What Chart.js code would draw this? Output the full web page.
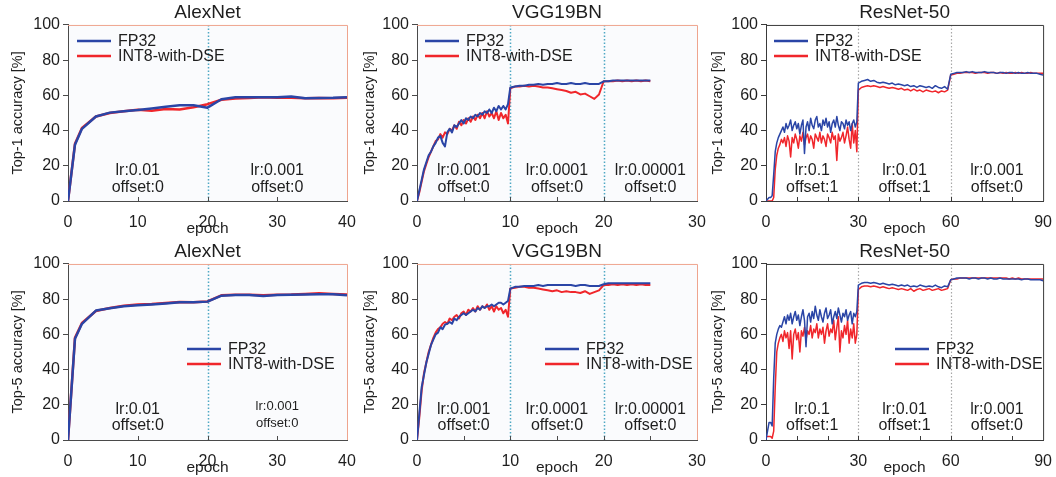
<!DOCTYPE html>
<html><head><meta charset="utf-8">
<script src="https://cdn.jsdelivr.net/npm/chart.js@4.4.1/dist/chart.umd.min.js"></script>
<style>
html,body{margin:0;padding:0;background:#fff;}
#wrap{position:relative;width:1056px;height:477px;overflow:hidden;background:#fff;}
canvas{position:absolute;}
</style></head><body><div id="wrap">
<canvas id="c0" width="362" height="238" style="left:0px;top:0px"></canvas>
<canvas id="c1" width="362" height="238" style="left:350px;top:0px"></canvas>
<canvas id="c2" width="356" height="238" style="left:700px;top:0px"></canvas>
<canvas id="c3" width="362" height="238" style="left:0px;top:239px"></canvas>
<canvas id="c4" width="362" height="238" style="left:350px;top:239px"></canvas>
<canvas id="c5" width="356" height="238" style="left:700px;top:239px"></canvas>
</div>
<script>
// ---------------- DATA ----------------
const seriesNames = ['FP32', 'INT8-with-DSE'];
const panelTitles = ['AlexNet', 'VGG19BN', 'ResNet-50'];
const yTitles = ['Top-1 accuracy [%]', 'Top-5 accuracy [%]'];
const yTicks = [0, 20, 40, 60, 80, 100];
const alexXTicks = [0, 10, 20, 30, 40];
const vggXTicks = [0, 10, 20, 30];
const resXTicks = [0, 30, 60, 90];

// AlexNet (epochs)
const alexEpochs = [0,1,2,4,6,8,10,12,14,16,18,20,22,24,26,28,30,32,34,36,38,40];
const alexTop1FP32 = [0,32,41,48,50.2,51,51.7,52.6,53.6,54.4,54.4,53,57.8,58.9,59,59,59,59.3,58.3,58.5,58.6,58.9];
const alexTop1INT8 = [0,32.5,41.5,48,50,51,51.8,51.3,52.3,52,53.2,55,57.5,58.2,58.5,58.9,58.6,58.6,58.4,58.5,58.4,58.6];
const alexTop5FP32 = [0,57.5,66,73.5,74.8,76,76.5,77,77.6,78.2,78.3,78.6,82,82.3,82.4,81.8,82.4,82.5,82.7,82.8,82.8,82.2];
const alexTop5INT8 = [0,58,66.5,73.3,75,76.3,77,77.2,77.8,78.4,78.3,78.7,82.2,82.5,82.5,82.2,82.5,82.6,82.9,83.3,83,82.6];

// VGG19BN: sampling segments [start, end, step] in epochs
const vggSegments = [[0, 9.75, 0.25], [10, 19.5, 0.5], [20, 25, 0.5]];
const vggTop1FP32 = [
  0,6,12,18,22,26,28,31,33,36, 37,33,31,39,41,39,43,42,44,46, 44,47,46,48,47,49,48,50,49,51, 50,52,50,53,51,54,52,54,52,55,
  64.5,65,65.5,65.5,66,66,66.5,66,66.5,66.5, 67,66.5,66.5,67,66.5,66.5,67,66.5,66.5,66.5,
  68,68,68.5,68.5,68.5,68.5,68.5,68.5,68.5,68.5,68.5];
const vggTop1INT8 = [
  0,5,11,17,21,25,28,31,34,35, 38,36,39,38,41,40,43,41,45,43, 46,44,47,45,48,46,49,47,50,47, 51,48,50,47,51,46,50,47,49,44,
  64,65,65,65.5,65,65.5,65,64.5,64.5,64, 63.5,63,62.5,61.5,62,60.5,61,59.5,58,60.5,
  68,68,68,68.5,68,68.5,68,68.5,68,68.5,68];
const vggTop5FP32 = [
  0,15,30,37,44,49,54,57,60,61, 64,63,65.5,66,67,66,69,68,70,71, 72,71,72,73,74,73,75,74,76,75, 76,76,77,76,77,78,78,77,78,79,
  86,87,87,87.5,87.5,87.5,88,87.5,88,88, 88,88,88,88,87.5,88,88,87.5,87.5,87.5,
  88.5,89,89,89,89,89,89,89,89,89,89];
const vggTop5INT8 = [
  0,13,28,38,44,50,54,58,61,63, 64,66,67,66,69,68,70,71,69,72, 73,71,74,73,75,73,76,74,76,75, 77,74,76,73,76,74,75,72,74,70,
  86,86.5,87,87,86.5,86.5,86,85.5,85,84.5, 85,84,84.5,84,84,83.5,84.5,83,84,85,
  88,88,88.5,88,88.5,88,88.5,88,88.5,88,88];

// ResNet-50: sampling segments [start, end, step] in epochs
const resSegments = [[0, 29.5, 0.5], [30, 59, 1], [60, 90, 1]];
const resTop1FP32 = [
  0,1,2,2,3,15,28,33,36,38, 40,42,39,44,41,43,46,40,43,45, 41,44,38,43,46,27,42,45,40,47,
  43,41,46,48,42,44,40,46,43,47, 42,45,39,44,46,42,48,43,40,45, 44,41,46,43,45,40,44,46,42,45,
  67,68,68.5,69,68,68.5,67.5,67,67.5,67, 66.5,67,66,66.5,66,65.5,66,65,65.5,64.5, 65.5,65,64.5,65,64,65.5,64.5,64,65,63.5,
  72,72.5,73,73,73,73.5,73,73.5,73,73, 73,73.5,73,73,73,72.5,73,73,72.5,73, 73,72.5,73,72.5,72.5,73,72.5,72.5,72.5,72, 71.5];
const resTop1INT8 = [
  0,0,0,0,0,2,18,26,30,32, 35,33,36,31,37,34,25,36,33,38, 35,30,37,34,39,32,36,38,33,37,
  35,30,38,36,34,39,33,37,35,31, 38,36,33,39,35,37,23,38,34,36, 39,33,37,42,35,30,44,33,40,28,
  63,64.5,65,65.5,65,65.5,65,64.5,65,64.5, 64,64.5,64,63.5,64,63,63.5,62.5,63.5,62.5, 63,62,63,62.5,62,62.5,61.5,62.5,62,63,
  71.5,72,72.5,72.5,73,73,73,73,72.5,73, 73,73,72.5,73,73,72.5,73,72.5,73,72.5, 72.5,73,72.5,73,72.5,72.5,73,72.5,72.5,72.5, 72.5];
const resTop5FP32 = [
  0,5,10,10,8,35,55,60,63,65, 64,67,70,66,71,68,72,66,70,73, 68,71,65,70,74,68,53,70,72,67,
  73,69,76,71,68,74,70,67,72,75, 69,71,74,66,70,73,69,75,71,67, 72,70,74,68,71,73,66,72,70,73,
  88,89,89.5,89.5,89,89.5,89,88.5,89,88.5, 88,88.5,88,87.5,88,87.5,88,87,87.5,87, 88,87.5,87,87.5,87,88,87,86.5,87.5,87,
  91,91.5,92,92,92,92,91.5,92,92,91.5, 92,92,91.5,92,91.5,91.5,92,91.5,91.5,91.5, 91.5,91.5,91.5,91,91.5,91.5,91,91,91,91, 90.5];
const resTop5INT8 = [
  2,2,2,2,1,5,30,50,55,58, 60,56,62,58,61,52,62,46,60,63, 57,61,50,62,59,64,57,62,60,65,
  58,63,61,66,58,63,60,64,55,62, 66,59,63,61,68,57,64,70,50,62, 58,65,60,68,55,63,58,66,55,60,
  85.5,87,87.5,87.5,87,87.5,87,86.5,87,86.5, 86,86.5,86,85.5,86,85.5,85,86,84.5,85.5, 86,85,85.5,86,85,85.5,86,85,85.5,86,
  91,91.5,91.5,92,92,92,92,92,92,92, 92,92,92,92,92,92,92,92,92,91.5, 92,91.5,92,91.5,91.5,91.5,91.5,91.5,91.5,91.5, 91.5];

// Annotation texts per training phase
const alexNotes = [['lr:0.01','offset:0'], ['lr:0.001','offset:0']];
const vggNotes = [['lr:0.001','offset:0'], ['lr:0.0001','offset:0'], ['lr:0.00001','offset:0']];
const resNotes = [['lr:0.1','offset:1'], ['lr:0.01','offset:1'], ['lr:0.001','offset:0']];

// ---------------- BUILD ----------------
function sampleGrid(segs) {
  const out = [];
  segs.forEach(([a, b, s]) => {
    const n = Math.round((b - a) / s);
    for (let i = 0; i <= n; i++) out.push(Math.round((a + i * s) * 1000) / 1000);
  });
  return out;
}
const vggEpochs = sampleGrid(vggSegments);
const resEpochs = sampleGrid(resSegments);

const FONT = "'Liberation Sans', Arial, Helvetica, sans-serif";
Chart.defaults.font.family = FONT;
const BLUE = '#2a45a6';
const RED = '#f0262b';
const TXT = '#1e1e1e';

const decor = {
  id: 'decor',
  beforeDraw(chart, args, o) {
    const {ctx, chartArea: a} = chart;
    const xs = chart.scales.x;
    ctx.save();
    ctx.fillStyle = o.bg;
    ctx.fillRect(a.left, a.top, a.right - a.left, a.bottom - a.top);
    ctx.strokeStyle = o.dividerColor;
    ctx.lineWidth = o.dividerWidth;
    ctx.setLineDash(o.dividerDash);
    o.dividers.forEach(e => {
      const px = Math.round(xs.getPixelForValue(e)) + 0.5;
      ctx.beginPath(); ctx.moveTo(px, a.top); ctx.lineTo(px, a.bottom); ctx.stroke();
    });
    ctx.restore();
  },
  afterDraw(chart, args, o) {
    const {ctx, chartArea: a} = chart;
    const xs = chart.scales.x;
    ctx.save();
    ctx.lineWidth = 1;
    ctx.strokeStyle = o.frameColor;
    ctx.beginPath();
    ctx.moveTo(a.left, a.top + 0.5); ctx.lineTo(a.right + 0.5, a.top + 0.5); ctx.lineTo(a.right + 0.5, a.bottom);
    ctx.stroke();
    ctx.strokeStyle = o.axisColor;
    o.minorTicks.forEach(e => {
      const px = Math.round(xs.getPixelForValue(e)) + 0.5;
      ctx.beginPath(); ctx.moveTo(px, a.bottom); ctx.lineTo(px, a.bottom - 4); ctx.stroke();
    });
    ctx.fillStyle = TXT;
    ctx.textAlign = 'center';
    ctx.textBaseline = 'middle';
    o.notes.forEach(n => {
      ctx.font = n.size + 'px ' + FONT;
      const px = xs.getPixelForValue(n.at);
      n.lines.forEach((t, i) => ctx.fillText(t, px, a.top + n.y + i * n.gap));
    });
    const L = o.legend;
    const colors = [BLUE, RED];
    ctx.font = '16px ' + FONT;
    ctx.textAlign = 'left';
    seriesNames.forEach((name, i) => {
      const y = a.top + L.y + i * 15;
      ctx.strokeStyle = colors[i];
      ctx.lineWidth = 2.5;
      ctx.setLineDash([]);
      ctx.beginPath(); ctx.moveTo(a.left + L.x, y); ctx.lineTo(a.left + L.x + 34, y); ctx.stroke();
      ctx.fillStyle = TXT;
      ctx.fillText(name, a.left + L.x + 41, y + 1);
    });
    ctx.restore();
  }
};

function makeChart(id, p) {
  const datasets = [
    {label: seriesNames[0], data: p.epochs.map((e, i) => ({x: e, y: p.fp[i]})), borderColor: BLUE, borderWidth: p.lw},
    {label: seriesNames[1], data: p.epochs.map((e, i) => ({x: e, y: p.int8[i]})), borderColor: RED, borderWidth: p.lw}
  ];
  new Chart(document.getElementById(id), {
    type: 'line',
    data: {datasets},
    plugins: [decor],
    options: {
      responsive: false, animation: false, devicePixelRatio: 1,
      events: [],
      layout: {padding: {left: 0, right: p.rightPad, top: 0, bottom: 0}},
      elements: {point: {radius: 0}, line: {tension: 0, borderJoinStyle: 'round', fill: false}},
      plugins: {
        legend: {display: false}, tooltip: {enabled: false},
        title: {display: true, text: p.title, color: TXT, fullSize: false,
          font: {size: 19, weight: 'normal', lineHeight: 1.05}, padding: {top: 3, bottom: 2}},
        decor: {
          bg: p.bg, frameColor: p.frameColor, axisColor: p.axisColor,
          dividers: p.dividers, dividerColor: p.dividerColor, dividerWidth: p.dividerWidth, dividerDash: [1.5, 2],
          minorTicks: p.minorTicks, notes: p.notes, legend: p.legend
        }
      },
      scales: {
        x: {
          type: 'linear', min: 0, max: p.xTicks[p.xTicks.length - 1],
          afterBuildTicks: s => { s.ticks = p.xTicks.map(v => ({value: v})); },
          ticks: {color: TXT, font: {size: 16}, padding: 4, maxRotation: 0, autoSkip: false},
          grid: {display: false},
          border: {display: true, color: p.axisColor, width: 1},
          title: {display: true, text: 'epoch', color: TXT, font: {size: 15.5}, padding: {top: 0, bottom: 0}},
          afterFit: s => { s.height = 37; }
        },
        y: {
          min: 0, max: 100,
          afterBuildTicks: s => { s.ticks = yTicks.map(v => ({value: v})); },
          ticks: {color: TXT, font: {size: 16}, padding: 3},
          grid: {display: true, drawOnChartArea: false, drawTicks: true, tickLength: 5, color: p.axisColor},
          border: {display: true, color: p.axisColor, width: 1},
          title: {display: true, text: p.yTitle, color: TXT, font: {size: 14.5}, padding: {top: p.yTitlePad, bottom: 0}},
          afterFit: s => { s.width = p.left; }
        }
      }
    }
  });
}

const softStyle = {bg: '#fafbfd', frameColor: '#eea48e', axisColor: '#4a4a4a', dividerColor: '#4ea8c4', dividerWidth: 1.5};
const resStyle = {bg: '#ffffff', frameColor: '#3a3a3a', axisColor: '#3a3a3a', dividerColor: '#a8a8a8', dividerWidth: 1.2};

const topNoteY = 146, noteGap = 17;
function notesFor(texts, centers, size, y, gap) {
  return texts.map((lines, i) => ({at: centers[i], lines, size: size[i], y: y[i], gap: gap[i]}));
}

// Top row
makeChart('c0', Object.assign({}, softStyle, {
  title: panelTitles[0], yTitle: yTitles[0], epochs: alexEpochs, fp: alexTop1FP32, int8: alexTop1INT8, lw: 2.5,
  xTicks: alexXTicks, minorTicks: [10, 20, 30], dividers: [20], left: 68, rightPad: 15, yTitlePad: 9,
  legend: {x: 9, y: 16},
  notes: notesFor(alexNotes, [10, 30], [16, 16], [topNoteY, topNoteY], [noteGap, noteGap])
}));
makeChart('c1', Object.assign({}, softStyle, {
  title: panelTitles[1], yTitle: yTitles[0], epochs: vggEpochs, fp: vggTop1FP32, int8: vggTop1INT8, lw: 2,
  xTicks: vggXTicks, minorTicks: [5, 10, 15, 20, 25], dividers: [10, 20], left: 67, rightPad: 15, yTitlePad: 11,
  legend: {x: 8, y: 16},
  notes: notesFor(vggNotes, [5, 15, 25], [16, 16, 16], [topNoteY, topNoteY, topNoteY], [noteGap, noteGap, noteGap])
}));
makeChart('c2', Object.assign({}, resStyle, {
  title: panelTitles[2], yTitle: yTitles[0], epochs: resEpochs, fp: resTop1FP32, int8: resTop1INT8, lw: 1.5,
  xTicks: resXTicks, minorTicks: [10, 20, 30, 40, 50, 60, 70, 80], dividers: [30, 60], left: 66, rightPad: 11, yTitlePad: 9,
  legend: {x: 8, y: 16},
  notes: notesFor(resNotes, [15, 45, 75], [16, 16, 16], [topNoteY, topNoteY, topNoteY], [noteGap, noteGap, noteGap])
}));
// Bottom row
makeChart('c3', Object.assign({}, softStyle, {
  title: panelTitles[0], yTitle: yTitles[1], epochs: alexEpochs, fp: alexTop5FP32, int8: alexTop5INT8, lw: 2.5,
  xTicks: alexXTicks, minorTicks: [10, 20, 30], dividers: [20], left: 68, rightPad: 15, yTitlePad: 9,
  legend: {x: 119, y: 85},
  notes: notesFor(alexNotes, [10, 30], [16, 13], [146, 142], [16, 17])
}));
makeChart('c4', Object.assign({}, softStyle, {
  title: panelTitles[1], yTitle: yTitles[1], epochs: vggEpochs, fp: vggTop5FP32, int8: vggTop5INT8, lw: 2,
  xTicks: vggXTicks, minorTicks: [5, 10, 15, 20, 25], dividers: [10, 20], left: 67, rightPad: 15, yTitlePad: 11,
  legend: {x: 128, y: 85},
  notes: notesFor(vggNotes, [5, 15, 25], [16, 16, 16], [146, 146, 146], [16, 16, 16])
}));
makeChart('c5', Object.assign({}, resStyle, {
  title: panelTitles[2], yTitle: yTitles[1], epochs: resEpochs, fp: resTop5FP32, int8: resTop5INT8, lw: 1.5,
  xTicks: resXTicks, minorTicks: [10, 20, 30, 40, 50, 60, 70, 80], dividers: [30, 60], left: 66, rightPad: 8, yTitlePad: 9,
  legend: {x: 129, y: 85},
  notes: notesFor(resNotes, [15, 45, 75], [16, 16, 16], [146, 146, 146], [16, 16, 16])
}));
</script>
</body></html>
